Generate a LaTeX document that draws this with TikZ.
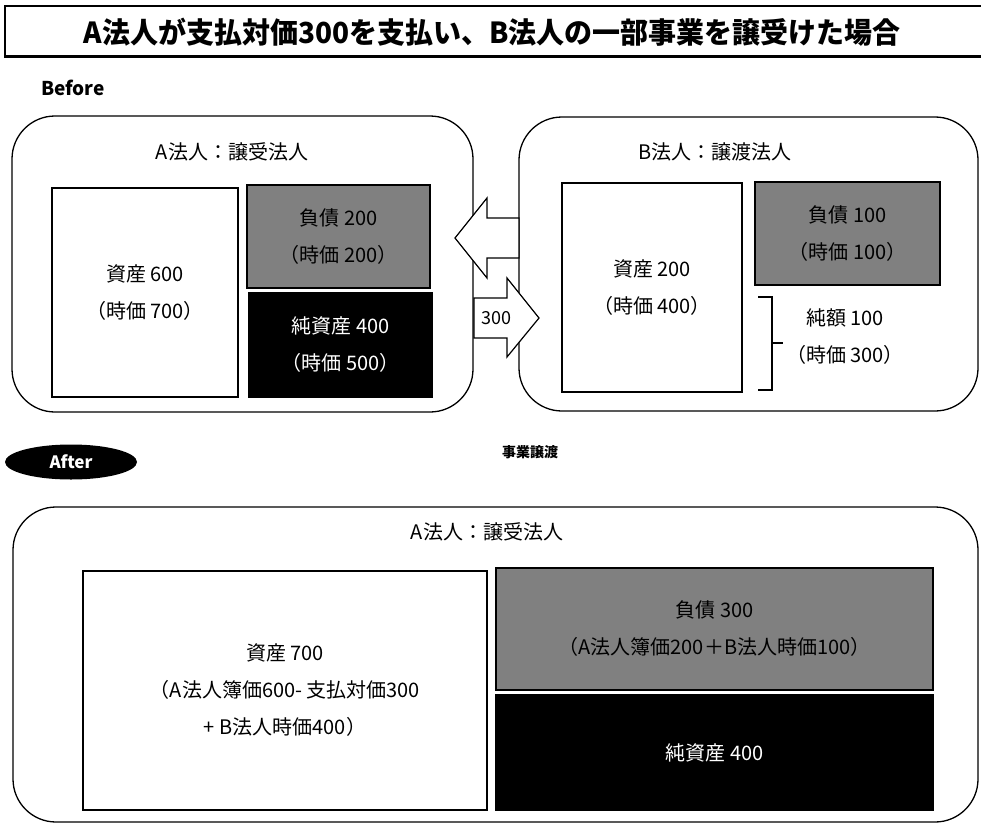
\documentclass[tikz,border=0pt]{standalone}
\usepackage{fontspec}
\setmainfont{Noto Sans CJK JP}
\usetikzlibrary{shapes.geometric}
\tikzset{
  body/.style={font=\fontsize{20}{37}\selectfont, align=center, inner sep=0pt},
  corp/.style={draw, line width=1.3pt, rounded corners=43pt, inner sep=0pt},
  assetbox/.style={draw, line width=1.2pt, fill=white, inner sep=0pt, body},
  liabbox/.style={draw, line width=1.2pt, fill=black!50, inner sep=0pt, body},
  equitybox/.style={draw, line width=1.2pt, fill=black, text=white, inner sep=0pt, body},
  blockarrow/.style={draw, line width=1.2pt, fill=white, line join=miter},
}
\begin{document}
\begin{tikzpicture}[x=1pt,y=-1pt]
\useasboundingbox (0,0) rectangle (981,824);
% title
\draw[line width=1.5pt] (983,6) -- (5,6) -- (5,57);
\draw[line width=3pt] (4.25,57) -- (983,57);
\node[font=\fontsize{29}{29}\bfseries\selectfont, inner sep=0pt, xscale=0.965] (title) at (492,32)
  {A法人が支払対価300を支払い、B法人の一部事業を譲受けた場合};
\node[font=\fontsize{19}{19}\bfseries\selectfont, inner sep=0pt] (before) at (73,88) {Before};

% before boxes
\node[corp, minimum width=461pt, minimum height=296pt] (abox) at (242.5,264) {};
\node[corp, minimum width=459pt, minimum height=294pt] (bbox) at (748.5,264) {};
\node[body] (atitle) at (232,152) {A法人：譲受法人};
\node[body] (btitle) at (715,152) {B法人：譲渡法人};

\node[assetbox, minimum width=186pt, minimum height=209pt] (aasset) at (145,292.5)
  {資産 600\\（時価 700）};
\node[liabbox, minimum width=183pt, minimum height=103pt] (aliab) at (338.5,236.5)
  {負債 200\\（時価 200）};
\node[equitybox, minimum width=183pt, minimum height=104pt] (aeq) at (340.5,345)
  {純資産 400\\（時価 500）};

\node[assetbox, minimum width=180pt, minimum height=209pt] (basset) at (652,287.5)
  {資産 200\\（時価 400）};
\node[liabbox, minimum width=185pt, minimum height=103pt] (bliab) at (847.5,233.5)
  {負債 100\\（時価 100）};
\node[body] (bnet) at (845,337) {純額 100\\（時価 300）};
\draw[line width=1.2pt] (758,297) -- (772,297) -- (772,390) -- (758,390)
  (772,343) -- (783,343);

% arrows
\draw[blockarrow] (519,218) -- (487,218) -- (487,198) -- (455,238) -- (487,278) -- (487,258) -- (519,258) -- cycle;
\draw[blockarrow] (474,298) -- (507,298) -- (507,278) -- (539,318) -- (507,357) -- (507,338) -- (474,338) -- cycle;
\node[font=\fontsize{18}{18}\selectfont, inner sep=0pt] (pay) at (496,318) {300};

\node[font=\fontsize{14}{14}\bfseries\selectfont, inner sep=0pt] (jigyo) at (530,452) {事業譲渡};

% after
\node[ellipse, fill=black, minimum width=132pt, minimum height=35pt, inner sep=0pt,
  text=white, font=\fontsize{17}{17}\bfseries\selectfont] (after) at (71,462) {After};
\node[corp, minimum width=965pt, minimum height=315pt] (cbox) at (495.5,664.5) {};
\node[body] (ctitle) at (487,532) {A法人：譲受法人};
\node[assetbox, minimum width=404pt, minimum height=239pt] (casset) at (285,690.5)
  {資産 700\\（A法人簿価600- 支払対価300\\+ B法人時価400）};
\node[liabbox, minimum width=437pt, minimum height=122pt] (cliab) at (714.5,629)
  {負債 300\\（A法人簿価200＋B法人時価100）};
\node[equitybox, minimum width=437pt, minimum height=115pt] (ceq) at (714.5,752.5)
  {純資産 400};
\end{tikzpicture}
\end{document}
